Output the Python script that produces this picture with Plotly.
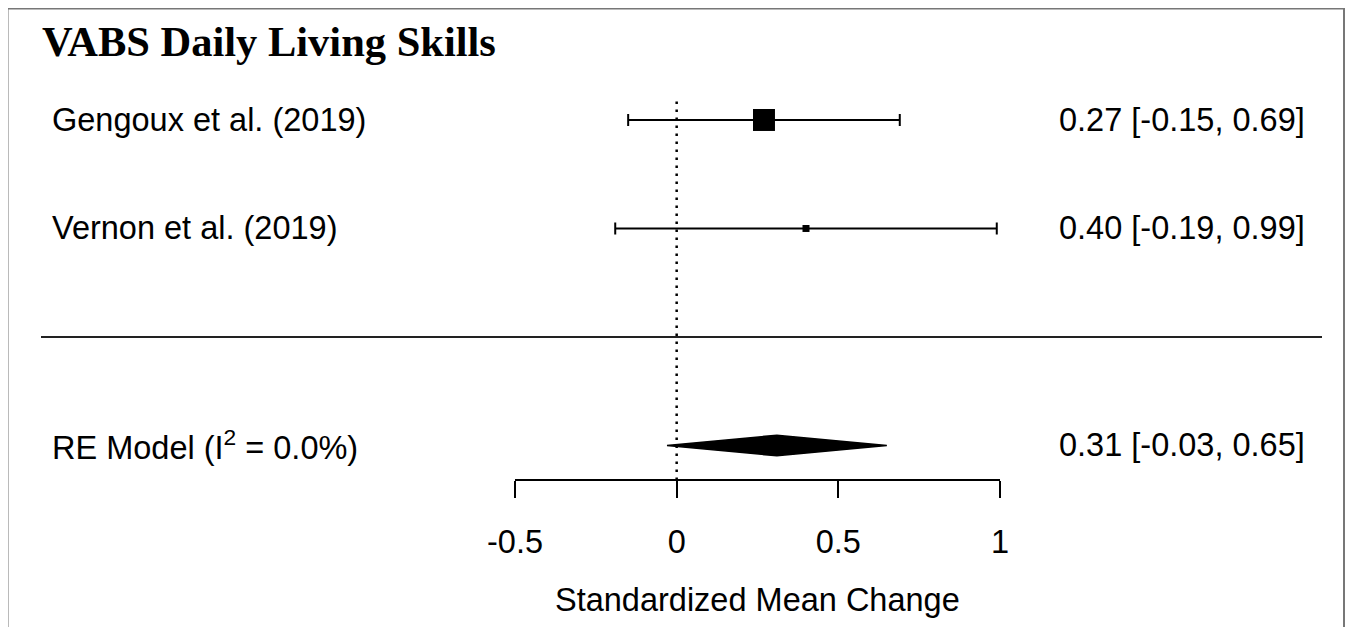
import plotly.graph_objects as go

# ---- data ----
studies = ["Gengoux et al. (2019)", "Vernon et al. (2019)"]
est = [0.27, 0.40]
ci_lo = [-0.15, -0.19]
ci_hi = [0.69, 0.99]
weights_px = [22, 7]          # marker size (px) reflecting study weight
rows = [2, 1]

re_label = "RE Model (I<sup>2</sup> = 0.0%)"
re_est = 0.31
re_lo = -0.03
re_hi = 0.65
re_row = -1

xticks = [-0.5, 0, 0.5, 1]
xtick_labels = ["-0.5", "0", "0.5", "1"]
title = "VABS Daily Living Skills"
xlabel = "Standardized Mean Change"

# ---- layout constants (page has an 8px body margin) ----
OFF = 8
W, H = 1357 - OFF, 627 - OFF
Y_MIN, Y_MAX = -2.673, 3.032
AXIS_ROW = -1.318
DOT_TOP = 2.21
DIAMOND_H = 0.095

def px(x):
    return (x - OFF) / W

def py(y):
    return 1 - (y - OFF) / H

def ypaper(r):
    return (r - Y_MIN) / (Y_MAX - Y_MIN)

TXT = dict(family="Liberation Sans, Arial", size=32.5, color="black")

fig = go.Figure()

# zero reference line
fig.add_trace(go.Scatter(x=[0, 0], y=[AXIS_ROW, DOT_TOP], mode="lines",
                         line=dict(color="black", width=2.5, dash="2.5px,5.5px"),
                         hoverinfo="skip", showlegend=False))

# study estimates with CIs
for i in range(len(studies)):
    fig.add_trace(go.Scatter(
        x=[est[i]], y=[rows[i]], mode="markers",
        marker=dict(symbol="square", size=weights_px[i], color="black", line=dict(width=0)),
        error_x=dict(type="data", symmetric=False,
                     array=[ci_hi[i] - est[i]], arrayminus=[est[i] - ci_lo[i]],
                     color="black", thickness=2, width=6),
        showlegend=False, hoverinfo="skip"))

# summary diamond
fig.add_trace(go.Scatter(
    x=[re_lo, re_est, re_hi, re_est, re_lo],
    y=[re_row, re_row + DIAMOND_H, re_row, re_row - DIAMOND_H, re_row],
    mode="lines", fill="toself", fillcolor="black",
    line=dict(color="black", width=1.5), showlegend=False, hoverinfo="skip"))

annotations = []
# title
annotations.append(dict(x=px(40), y=py(42), xref="paper", yref="paper",
                        text="<b>" + title + "</b>", showarrow=False,
                        xanchor="left", yanchor="middle",
                        font=dict(family="Liberation Serif, Times New Roman", size=42.5, color="black")))
# left labels and right CI texts
labels = studies + [re_label]
all_rows = rows + [re_row]
all_est = est + [re_est]
all_lo = ci_lo + [re_lo]
all_hi = ci_hi + [re_hi]
for lab, r, e, lo, hi in zip(labels, all_rows, all_est, all_lo, all_hi):
    annotations.append(dict(x=px(50), y=r, xref="paper", yref="y", text=lab,
                            showarrow=False, xanchor="left", yanchor="middle", font=TXT))
    annotations.append(dict(x=px(1307), y=r, xref="paper", yref="y",
                            text=f"{e:.2f} [{lo:.2f}, {hi:.2f}]",
                            showarrow=False, xanchor="right", yanchor="middle", font=TXT))
# x-axis title
annotations.append(dict(x=px(0.5 * (515 + 1000)), y=py(600), xref="paper", yref="paper",
                        text=xlabel, showarrow=False, xanchor="center", yanchor="middle", font=TXT))

shapes = [
    # separator line
    dict(type="line", xref="paper", yref="paper", x0=px(41), x1=px(1322),
         y0=ypaper(0), y1=ypaper(0), line=dict(color="#222", width=2)),
    # outer border
    dict(type="rect", xref="paper", yref="paper", x0=px(7.5), x1=px(1344),
         y0=-0.02, y1=py(8.5), line=dict(color="#777", width=2)),
]

fig.update_layout(
    width=W, height=H, margin=dict(l=0, r=0, t=0, b=0, autoexpand=False),
    paper_bgcolor="white", plot_bgcolor="white",
    xaxis=dict(domain=[px(515), px(1000)], range=[-0.5, 1], anchor="free",
               position=ypaper(AXIS_ROW), showline=True, linecolor="black", linewidth=2,
               tickvals=xticks, ticktext=xtick_labels, ticks="outside", ticklen=17,
               tickwidth=2, tickcolor="black", showgrid=False, zeroline=False,
               tickfont=TXT, ticklabelstandoff=16, fixedrange=True, automargin=False),
    yaxis=dict(domain=[0, 1], range=[Y_MIN, Y_MAX], visible=False, fixedrange=True,
               automargin=False),
    annotations=annotations, shapes=shapes,
)

fig.write_html("out.html")
